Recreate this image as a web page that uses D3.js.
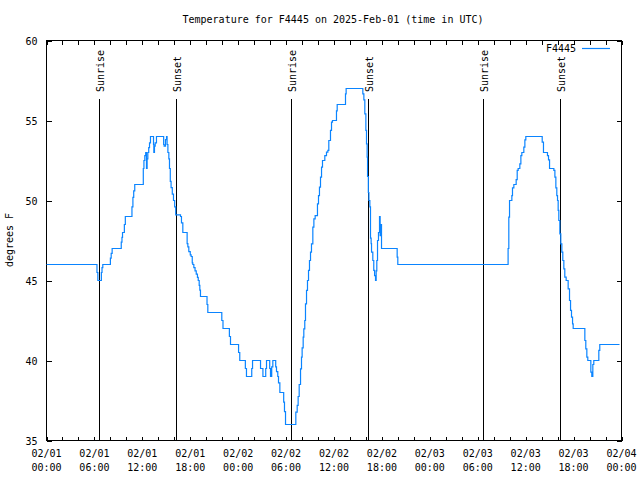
<!DOCTYPE html>
<html>
<head>
<meta charset="utf-8">
<script src="https://cdn.jsdelivr.net/npm/d3@7"></script>
<style>
  html, body { margin: 0; padding: 0; background: #fff; }
  svg { display: block; }
  text { font-family: "DejaVu Sans Mono", "Liberation Mono", monospace; font-size: 10px; fill: #000; }
</style>
</head>
<body>
<script>
// ---- data ----
const startTime = "2025-02-01T00:00:00Z";
const endTime = "2025-02-04T00:00:00Z";
const seriesName = "F4445";
// hours since 2025-02-01 00:00 UTC
const hours = [
  0, 6.3, 6.32, 6.43, 6.8, 6.87, 6.95, 7.05, 7.93, 8.0, 8.1, 8.22, 9.31, 9.36, 9.45, 9.52, 9.62, 9.75, 9.87,
  10.6, 10.7, 10.82, 10.92, 11.05, 12.06, 12.12, 12.2, 12.31, 12.42, 12.52, 12.6, 12.69, 12.8, 12.9, 13.02,
  13.31, 13.4, 13.44, 13.52, 13.61, 13.77, 14.61, 14.67, 14.73, 14.9, 15.03, 15.1, 15.2, 15.32, 15.4, 15.5,
  15.6, 15.75, 15.9, 16.05, 16.18, 16.78, 16.9, 17.07, 17.49, 17.61, 17.7, 17.82, 18.0, 18.11, 18.25, 18.32,
  18.45, 18.6, 18.75, 18.9, 19.0, 19.12, 19.2, 19.28, 20.0, 20.1, 20.2, 21.8, 21.95, 22.1, 22.8, 22.9, 23.04,
  23.9, 24.05, 24.2, 24.8, 24.9, 25.04, 25.6, 25.7, 25.8, 26.6, 26.8, 27.1, 27.34, 27.45, 27.55, 27.84, 27.95,
  28.05, 28.2, 28.34, 28.59, 28.7, 28.8, 28.96, 29.05, 29.22, 29.59, 29.7, 29.8, 29.93, 31.1, 31.22, 31.39,
  31.51, 31.64, 31.81, 31.93, 32.01, 32.14, 32.22, 32.34, 32.43, 32.56, 32.68, 32.81, 32.93, 33.06, 33.18,
  33.35, 33.48, 33.64, 33.81, 33.93, 34.06, 34.18, 34.31, 34.44, 34.56, 34.85, 35.06, 35.23, 35.35, 35.56,
  35.69, 35.81, 36.19, 36.31, 36.4, 37.32, 37.44, 37.52, 39.44, 39.61, 39.74, 39.86, 39.99, 40.07, 40.15,
  40.2, 40.3, 40.37, 40.49, 40.57, 40.65, 40.7, 40.86, 40.98, 41.08, 41.2, 41.28, 41.36, 41.45, 41.57, 41.7,
  41.78, 41.84, 41.9, 41.95, 43.79, 43.91, 43.99, 57.77, 57.8, 57.89, 57.98, 58.19, 58.27, 58.35, 58.52,
  58.81, 58.94, 59.06, 59.27, 59.4, 59.52, 59.77, 59.9, 60.02, 61.86, 62.07, 62.23, 62.61, 62.73, 62.86,
  62.99, 63.41, 63.53, 63.66, 63.78, 63.9, 63.99, 64.07, 64.15, 64.28, 64.4, 64.53, 64.65, 64.78, 64.9,
  65.07, 65.28, 65.32, 65.49, 65.62, 65.74, 65.87, 65.95, 67.28, 67.41, 67.53, 67.66, 67.78, 68.03, 68.16,
  68.28, 68.41, 68.53, 69.03, 69.16, 69.28, 71.75
];
const temps = [
  46, 46, 45.5, 45, 45, 45.5, 45.8, 46, 46, 46.4, 46.7, 47, 47, 47.4, 47.7, 48, 48, 48.5, 49,
  49, 49.6, 50.2, 50.6, 51, 51, 52, 52.5, 52.8, 53, 52, 52.6, 53, 53.3, 53.6, 54,
  54, 53.5, 53, 53.4, 53.6, 54, 54, 53.5, 53.4, 53.8, 54, 53.5, 53, 52.6, 52, 51.2,
  50.8, 50.4, 50, 49.6, 49.1, 49, 48.6, 48, 48, 47.3, 47.1, 46.8, 46.6, 46.5, 46.1, 46,
  45.8, 45.6, 45.4, 45.2, 45, 44.7, 44.4, 44, 44, 43.5, 43, 43, 42.5, 42, 42, 41.5, 41,
  41, 40.5, 40, 40, 39.5, 39, 39, 39.5, 40, 40, 39.5, 39, 39, 39.5, 40, 40, 39.5,
  39, 39.6, 40, 40, 39.6, 39.3, 39, 38.6, 38, 38, 37.4, 36.8, 36, 36, 36.77, 37.19,
  37.75, 38.5, 39.48, 40.21, 40.79, 41.46, 41.98, 42.5, 43.54, 44.38, 45, 45.63, 46.25, 46.77, 47.29,
  48.33, 48.85, 49.06, 49.06, 49.79, 50.31, 50.83, 51.46, 52.08, 52.5, 52.81, 53.02, 53.13, 53.75, 54.38,
  54.9, 55, 55, 55.6, 56, 56, 56.67, 57, 57, 56.67, 56.29, 55.42, 54.38, 53.54, 52.71,
  51.5, 50.5, 50, 49.6, 47.65, 47.3, 46.77, 46.25, 45.63, 45.3, 45, 45.6, 46.25, 47.5, 48, 49,
  47.8, 48.5, 48.5, 47, 47, 46.46, 46, 46, 47, 48.96, 50, 50, 50.31, 50.79, 51,
  51.31, 51.88, 52, 52.29, 52.81, 53, 53.33, 53.79, 54, 54, 53.65, 53, 53, 52.81, 52.54,
  52, 52, 51.88, 51.46, 50.79, 50.31, 50, 49.38, 48.75, 47.92, 47.29, 46.77, 46.25, 45.73, 45.21,
  45, 45, 44.48, 43.75, 43.13, 42.71, 42.29, 42, 42, 41.25, 40.73, 40.21, 40, 40, 39.27,
  39, 39.75, 40, 40, 40.63, 41, 41
];
const sunEvents = [
  { label: "Sunrise", time: "2025-02-01T06:38:00Z" },
  { label: "Sunset",  time: "2025-02-01T16:10:00Z" },
  { label: "Sunrise", time: "2025-02-02T06:36:00Z" },
  { label: "Sunset",  time: "2025-02-02T16:14:00Z" },
  { label: "Sunrise", time: "2025-02-03T06:38:00Z" },
  { label: "Sunset",  time: "2025-02-03T16:17:00Z" }
];
const yTicks = [35, 40, 45, 50, 55, 60];
const titleText = "Temperature for F4445 on 2025-Feb-01 (time in UTC)";
const yLabel = "degrees F";

// ---- chart ----
const W = 640, H = 480;
const L = 46.5, R = 621.5, T = 40.5, B = 440.5;
const lineColor = "#0a84ff";

const svg = d3.select("body").append("svg").attr("width", W).attr("height", H);

const t0 = new Date(startTime);
const x = d3.scaleUtc().domain([t0, new Date(endTime)]).range([L, R]);
const y = d3.scaleLinear().domain([35, 60]).range([B, T]);

const data = hours.map((h, i) => ({ t: new Date(t0.getTime() + h * 3600e3), v: temps[i] }));

// title
svg.append("text").attr("x", 333).attr("y", 23).attr("text-anchor", "middle").text(titleText);

// y label
svg.append("text").attr("transform", "translate(13,240) rotate(-90)")
  .attr("text-anchor", "middle").text(yLabel);

// axes (ticks inward, mirrored)
const majorTicks = x.ticks(d3.utcHour.every(6));
const minorTicks = x.ticks(d3.utcHour.every(2));
const fmtDate = d3.utcFormat("%m/%d"), fmtTime = d3.utcFormat("%H:%M");

const gBottom = svg.append("g").attr("transform", `translate(0,${B})`)
  .call(d3.axisBottom(x).tickValues(minorTicks).tickSize(-4).tickFormat(""));
const gTop = svg.append("g").attr("transform", `translate(0,${T})`)
  .call(d3.axisTop(x).tickValues(minorTicks).tickSize(-4).tickFormat(""));
const gLeft = svg.append("g").attr("transform", `translate(${L},0)`)
  .call(d3.axisLeft(y).tickValues(yTicks).tickSize(-5).tickPadding(9).tickFormat(d3.format("d")));
const gRight = svg.append("g").attr("transform", `translate(${R},0)`)
  .call(d3.axisRight(y).tickValues(yTicks).tickSize(-5).tickFormat(""));
[gBottom, gTop, gLeft, gRight].forEach(g => {
  g.select(".domain").remove();
  g.selectAll("line").attr("stroke", "#000").attr("shape-rendering", "crispEdges");
  g.selectAll("text").attr("font-family", null).attr("font-size", null).attr("fill", "#000");
});
gLeft.selectAll("text").attr("dy", "0.35em");

// x labels (two lines)
const xl = svg.append("g");
majorTicks.forEach(d => {
  const tx = xl.append("text").attr("x", x(d)).attr("text-anchor", "middle");
  tx.append("tspan").attr("x", x(d)).attr("y", 457).text(fmtDate(d));
  tx.append("tspan").attr("x", x(d)).attr("y", 471).text(fmtTime(d));
});

// frame
svg.append("rect").attr("x", L).attr("y", T).attr("width", R - L).attr("height", B - T)
  .attr("fill", "none").attr("stroke", "#000").attr("shape-rendering", "crispEdges");

// sunrise / sunset markers
const ev = svg.append("g");
sunEvents.forEach(e => {
  const xx = Math.round(x(new Date(e.time))) + 0.5;
  ev.append("line").attr("x1", xx).attr("x2", xx).attr("y1", 99).attr("y2", B)
    .attr("stroke", "#000").attr("shape-rendering", "crispEdges");
  ev.append("text").attr("transform", `translate(${xx + 1},92) rotate(-90)`)
    .attr("text-anchor", "start").attr("dominant-baseline", "middle").text(e.label);
});

// data line
const line = d3.line().x(d => x(d.t)).y(d => y(d.v)).curve(d3.curveStepAfter);
svg.append("path").datum(data).attr("d", line)
  .attr("fill", "none").attr("stroke", lineColor).attr("stroke-width", 1.2);

// legend
svg.append("text").attr("x", 576).attr("y", 49).attr("text-anchor", "end")
  .attr("dominant-baseline", "middle").text(seriesName);
svg.append("line").attr("x1", 582).attr("x2", 610).attr("y1", 48.5).attr("y2", 48.5)
  .attr("stroke", lineColor).attr("stroke-width", 1.2);
</script>
</body>
</html>
